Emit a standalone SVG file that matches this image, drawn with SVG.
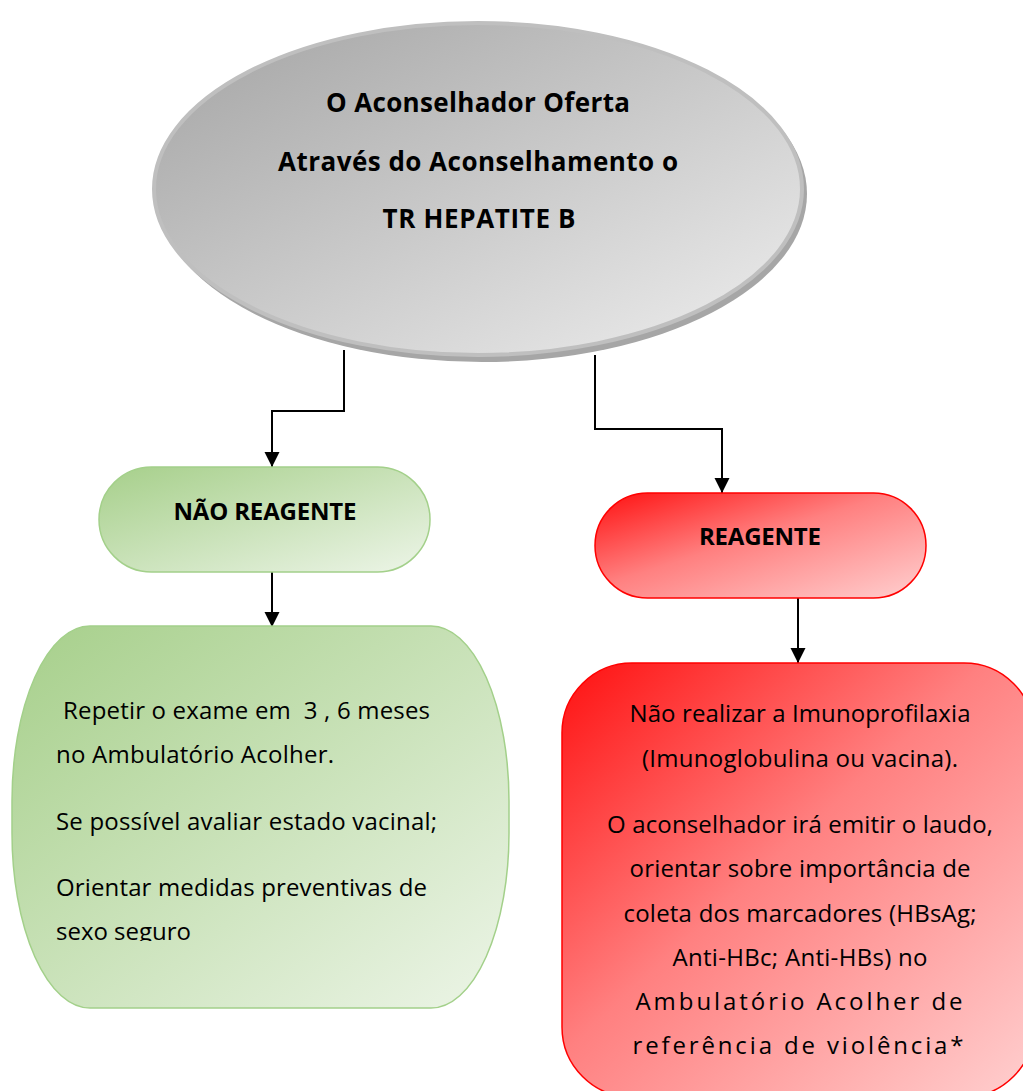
<svg xmlns="http://www.w3.org/2000/svg" width="1023" height="1091" viewBox="0 0 1023 1091">
  <style>
    .title { font-family: "Open Sans", "Liberation Sans", sans-serif; font-weight: bold; font-size: 26px; fill: #000; text-anchor: middle; }
    .label { font-family: "Open Sans", "Liberation Sans", sans-serif; font-weight: bold; font-size: 24px; fill: #000; text-anchor: middle; }
    .body { font-family: "Open Sans", "Liberation Sans", sans-serif; font-size: 24px; fill: #000; }
    .center { text-anchor: middle; }
    .wire { fill: none; stroke: #000; stroke-width: 2; marker-end: url(#arrow); }
  </style>
  <defs>
    <linearGradient id="grayFill" x1="0" y1="0" x2="1" y2="1">
      <stop offset="0" stop-color="#a3a3a3"/>
      <stop offset="1" stop-color="#efefef"/>
    </linearGradient>
    <linearGradient id="greenFill" x1="0" y1="0" x2="1" y2="1">
      <stop offset="0" stop-color="#a6cf8a"/>
      <stop offset="1" stop-color="#edf5e8"/>
    </linearGradient>
    <linearGradient id="redFill" x1="0" y1="0" x2="1" y2="1">
      <stop offset="0" stop-color="#ff1010"/>
      <stop offset="0.45" stop-color="#ff8080"/>
      <stop offset="1" stop-color="#ffd0d0"/>
    </linearGradient>
    <marker id="arrow" markerUnits="userSpaceOnUse" markerWidth="16" markerHeight="16" refX="15" refY="7.5" orient="auto">
      <path d="M0,0 L15,7.5 L0,15 Z" fill="#000"/>
    </marker>
    <clipPath id="greenClip">
      <rect x="0" y="600" width="520" height="341"/>
    </clipPath>
  </defs>

  <!-- connectors -->
  <g id="connectors">
    <path class="wire" d="M344,350 V411 H272 V467"/>
    <path class="wire" d="M595,355 V429 H722 V493"/>
    <path class="wire" d="M272,572 V627"/>
    <path class="wire" d="M798,598 V663"/>
  </g>

  <!-- start: offer of the rapid test -->
  <g id="start">
    <ellipse cx="482" cy="194" rx="325" ry="168" fill="#a6a6a6"/>
    <ellipse cx="478" cy="189" rx="324" ry="166" fill="url(#grayFill)" stroke="#bfbfbf" stroke-width="4"/>
    <text class="title" x="478" y="112" textLength="304">O Aconselhador Oferta</text>
    <text class="title" x="478" y="171" textLength="400">Através do Aconselhamento o</text>
    <text class="title" x="479" y="228" textLength="193">TR HEPATITE B</text>
  </g>

  <!-- non-reactive result -->
  <g id="nao-reagente">
    <rect x="99" y="467" width="331" height="105" rx="52.5" fill="url(#greenFill)" stroke="#a3d08a" stroke-width="1.5"/>
    <text class="label" x="265" y="520" textLength="183">NÃO REAGENTE</text>
  </g>

  <!-- reactive result -->
  <g id="reagente">
    <rect x="595" y="493" width="331" height="105" rx="52.5" fill="url(#redFill)" stroke="#ff0000" stroke-width="1.5"/>
    <text class="label" x="760" y="545" textLength="122">REAGENTE</text>
  </g>

  <!-- follow-up for non-reactive -->
  <g id="orientacao-nao-reagente">
    <rect x="12" y="626" width="497" height="382" rx="78" ry="175" fill="url(#greenFill)" stroke="#a3d08a" stroke-width="1.5"/>
    <g clip-path="url(#greenClip)">
      <text class="body" x="63" y="719" textLength="367" xml:space="preserve">Repetir o exame em  3 , 6 meses</text>
      <text class="body" x="56" y="763" textLength="278">no Ambulatório Acolher.</text>
      <text class="body" x="56" y="830" textLength="381">Se possível avaliar estado vacinal;</text>
      <text class="body" x="56" y="896" textLength="371">Orientar medidas preventivas de</text>
      <text class="body" x="56" y="940" textLength="135">sexo seguro</text>
    </g>
  </g>

  <!-- follow-up for reactive -->
  <g id="orientacao-reagente">
    <rect x="562" y="663" width="472" height="434" rx="70" fill="url(#redFill)" stroke="#ff0000" stroke-width="1.5"/>
    <text class="body center" x="800" y="722" textLength="341">Não realizar a Imunoprofilaxia</text>
    <text class="body center" x="800" y="767" textLength="316">(Imunoglobulina ou vacina).</text>
    <text class="body center" x="800" y="833" textLength="386">O aconselhador irá emitir o laudo,</text>
    <text class="body center" x="800" y="877" textLength="341">orientar sobre importância de</text>
    <text class="body center" x="800" y="922" textLength="353">coleta dos marcadores (HBsAg;</text>
    <text class="body center" x="800" y="966" textLength="255">Anti-HBc; Anti-HBs) no</text>
    <text class="body center" x="799" y="1010" textLength="327">Ambulatório Acolher de</text>
    <text class="body center" x="798" y="1054" textLength="331">referência de violência*</text>
  </g>
</svg>
